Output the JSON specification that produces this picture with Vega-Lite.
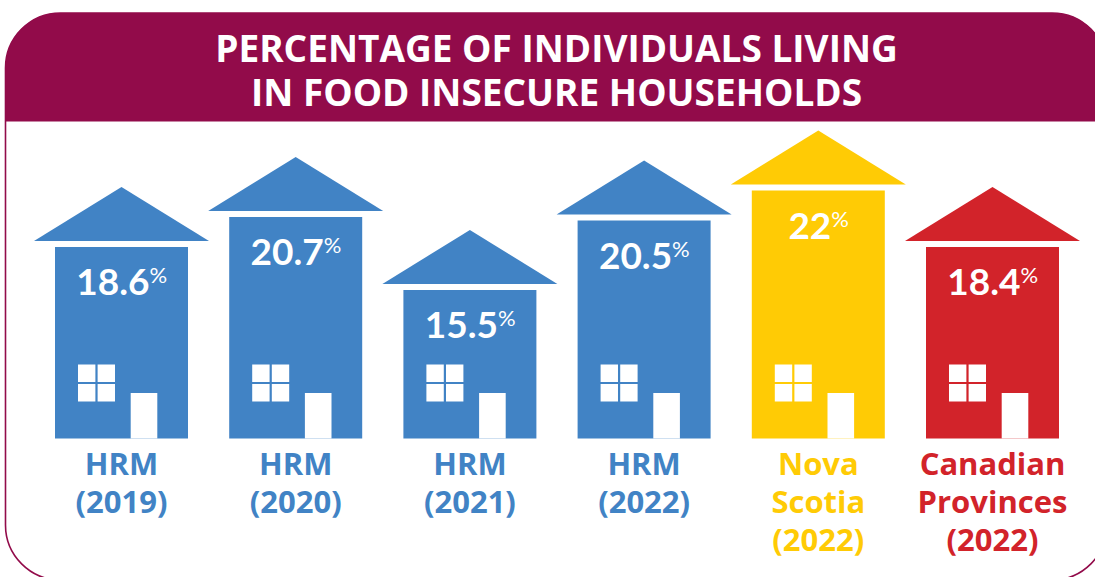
{
  "$schema": "https://vega.github.io/schema/vega-lite/v6.json",
  "width": 1095,
  "height": 577,
  "padding": 0,
  "background": "white",
  "config": {"view": {"stroke": null}},
  "datasets": {
    "houses": [
      {"category": "HRM (2019)", "label": "HRM\n(2019)", "percent": 18.6, "height": 191.5},
      {"category": "HRM (2020)", "label": "HRM\n(2020)", "percent": 20.7, "height": 221.5},
      {"category": "HRM (2021)", "label": "HRM\n(2021)", "percent": 15.5, "height": 148.5},
      {"category": "HRM (2022)", "label": "HRM\n(2022)", "percent": 20.5, "height": 218},
      {"category": "Nova Scotia (2022)", "label": "Nova\nScotia\n(2022)", "percent": 22, "height": 248},
      {"category": "Canadian Provinces (2022)", "label": "Canadian\nProvinces\n(2022)", "percent": 18.4, "height": 191.5}
    ]
  },
  "resolve": {"scale": {"x": "independent", "y": "independent"}},
  "layer": [
    {
      "data": {"values": [{"title": "PERCENTAGE OF INDIVIDUALS LIVING\nIN FOOD INSECURE HOUSEHOLDS"}]},
      "encoding": {
        "x": {"datum": 5.5, "type": "quantitative", "axis": null, "scale": {"domain": [0, 1095], "range": [0, 1095], "nice": false, "zero": false}},
        "y": {"datum": 13, "type": "quantitative", "axis": null, "scale": {"domain": [0, 577], "range": [0, 577], "nice": false, "zero": false}}
      },
      "layer": [
        {
          "mark": {"type": "rect", "fill": "white", "stroke": "#920B4A", "strokeWidth": 1.6, "cornerRadius": 55},
          "encoding": {"x2": {"datum": 1107}, "y2": {"datum": 580}}
        },
        {
          "mark": {"type": "rect", "fill": "#920B4A", "cornerRadiusTopLeft": 55, "cornerRadiusTopRight": 55},
          "encoding": {"x2": {"datum": 1107}, "y2": {"datum": 121.5}}
        },
        {
          "mark": {"type": "text", "font": "Open Sans", "fontWeight": "bold", "fontSize": 37, "fill": "white", "align": "center", "baseline": "alphabetic", "lineBreak": "\n", "lineHeight": 44},
          "encoding": {
            "x": {"datum": 556.5, "type": "quantitative"},
            "y": {"datum": 62, "type": "quantitative"},
            "text": {"field": "title", "type": "nominal"}
          }
        }
      ]
    },
    {
      "data": {"name": "houses"},
      "encoding": {
        "x": {"field": "category", "type": "nominal", "sort": null, "axis": null,
          "scale": {"type": "band", "domain": ["HRM (2019)", "HRM (2020)", "HRM (2021)", "HRM (2022)", "Nova Scotia (2022)", "Canadian Provinces (2022)"], "range": [34.4, 1079.6], "paddingInner": 0, "paddingOuter": 0}},
        "y": {"field": "height", "type": "quantitative", "axis": null, "scale": {"domain": [-138.5, 438.5], "range": [577, 0], "nice": false, "zero": false}},
        "color": {"field": "category", "type": "nominal", "legend": null,
          "scale": {"domain": ["HRM (2019)", "HRM (2020)", "HRM (2021)", "HRM (2022)", "Nova Scotia (2022)", "Canadian Provinces (2022)"], "range": ["#4183C5", "#4183C5", "#4183C5", "#4183C5", "#FFCB05", "#D2232A"]}}
      },
      "layer": [
        {
          "mark": {"type": "bar", "size": 133},
          "encoding": {"y2": {"datum": 0}}
        },
        {
          "mark": {"type": "point", "filled": true, "opacity": 1, "strokeWidth": 0, "size": 30625, "shape": "M-1,-0.069L1,-0.069L0,-0.686Z"}
        },
        {
          "mark": {"type": "point", "filled": true, "opacity": 1, "strokeWidth": 0, "size": 1369, "xOffset": -25, "shape": "M-1,-1L-0.06,-1L-0.06,-0.06L-1,-0.06ZM0.06,-1L1,-1L1,-0.06L0.06,-0.06ZM-1,0.06L-0.06,0.06L-0.06,1L-1,1ZM0.06,0.06L1,0.06L1,1L0.06,1Z"},
          "encoding": {"y": {"datum": 55.5, "type": "quantitative"}, "color": {"value": "white"}}
        },
        {
          "mark": {"type": "point", "filled": true, "opacity": 1, "strokeWidth": 0, "size": 708, "xOffset": 22.5, "shape": "M-1,0L1,0L1,-3.42L-1,-3.42Z"},
          "encoding": {"y": {"datum": 0, "type": "quantitative"}, "color": {"value": "white"}}
        },
        {
          "mark": {"type": "text", "font": "Lato", "fontWeight": "bold", "fontSize": 37, "align": "right", "baseline": "alphabetic", "dy": 48, "dx": {"expr": "datum.percent == 22 ? 13 : 28"}},
          "encoding": {"text": {"field": "percent", "type": "quantitative"}, "color": {"value": "white"}}
        },
        {
          "mark": {"type": "text", "font": "Lato", "fontWeight": "normal", "fontSize": 22, "align": "left", "baseline": "alphabetic", "dy": 36, "dx": {"expr": "datum.percent == 22 ? 13 : 28"}},
          "encoding": {"text": {"value": "%"}, "color": {"value": "white"}}
        },
        {
          "mark": {"type": "text", "font": "Open Sans", "fontWeight": "bold", "fontSize": 31, "align": "center", "baseline": "alphabetic", "lineBreak": "\n", "lineHeight": 38},
          "encoding": {"y": {"datum": -36.5, "type": "quantitative"}, "text": {"field": "label", "type": "nominal"}}
        }
      ]
    }
  ]
}
